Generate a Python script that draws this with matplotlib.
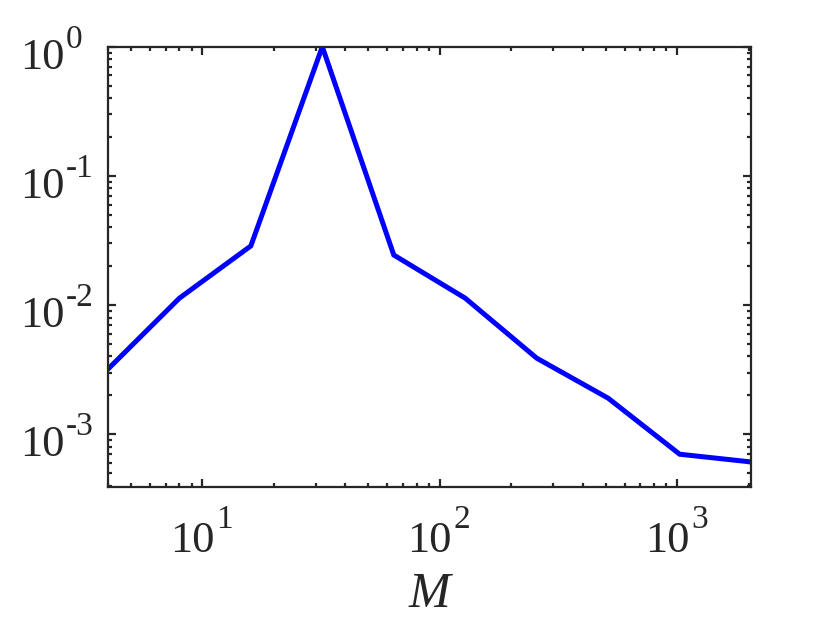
import numpy as np
import matplotlib
matplotlib.use('Agg')
import matplotlib.pyplot as plt
from matplotlib.ticker import LogLocator, NullFormatter, FixedLocator

plt.rcParams['font.family'] = ['Liberation Serif', 'DejaVu Serif']

# Data
M = [4, 8, 16, 32, 64, 128, 256, 512, 1024, 2048]
err = [3.19e-3, 1.13e-2, 2.87e-2, 1.0, 2.44e-2, 1.13e-2, 3.88e-3, 1.90e-3, 7.0e-4, 6.1e-4]

x_decades = [1, 2, 3]
y_decades = [0, -1, -2, -3]

edge = '#262626'
px = 0.72  # points per pixel at dpi 100

fig = plt.figure(figsize=(8.3, 6.23), dpi=100)
ax = fig.add_axes([0.130, 0.218, 0.775, 0.707])

ax.plot(M, err, color=(0, 0, 1), linewidth=3.6, solid_joinstyle='miter')

ax.set_xscale('log')
ax.set_yscale('log')
ax.set_xlim(4, 2048)
ax.set_ylim(10 ** -3.41, 1.0)

ax.xaxis.set_major_locator(FixedLocator([10.0 ** d for d in x_decades]))
ax.yaxis.set_major_locator(FixedLocator([10.0 ** d for d in y_decades]))
ax.xaxis.set_minor_locator(LogLocator(base=10, subs=np.arange(2, 10), numticks=20))
ax.yaxis.set_minor_locator(LogLocator(base=10, subs=np.arange(2, 10), numticks=20))
for axis in (ax.xaxis, ax.yaxis):
    axis.set_major_formatter(NullFormatter())
    axis.set_minor_formatter(NullFormatter())

for s in ax.spines.values():
    s.set_linewidth(1.6)
    s.set_color(edge)

ax.tick_params(which='both', direction='in', top=True, right=True,
               color=edge, width=1.6)
ax.tick_params(which='major', length=6)
ax.tick_params(which='minor', length=3.2)

# MATLAB-style tick labels: "10" with raised exponent
base_fs = 32
sup_fs = 24
for d in x_decades:
    xv = 10.0 ** d
    ax.annotate('10', xy=(xv, 0), xycoords=('data', 'axes fraction'),
                xytext=(12 * px, -65 * px), textcoords='offset points',
                ha='right', va='baseline', fontsize=base_fs, color=edge)
    ax.annotate(str(d), xy=(xv, 0), xycoords=('data', 'axes fraction'),
                xytext=(14 * px, -41 * px), textcoords='offset points',
                ha='left', va='baseline', fontsize=sup_fs, color=edge)
for d in y_decades:
    yv = 10.0 ** d
    ax.annotate('10', xy=(0, yv), xycoords=('axes fraction', 'data'),
                xytext=(-43 * px, -22 * px), textcoords='offset points',
                ha='right', va='baseline', fontsize=base_fs, color=edge)
    ax.annotate(str(d), xy=(0, yv), xycoords=('axes fraction', 'data'),
                xytext=(-42 * px, -1 * px), textcoords='offset points',
                ha='left', va='baseline', fontsize=sup_fs, color=edge)

ax.set_xlabel('M', fontsize=36, style='italic', color=edge, va='baseline')
ax.xaxis.set_label_coords(0.5, -120 / 440)

fig.savefig('out.png', dpi=100)
